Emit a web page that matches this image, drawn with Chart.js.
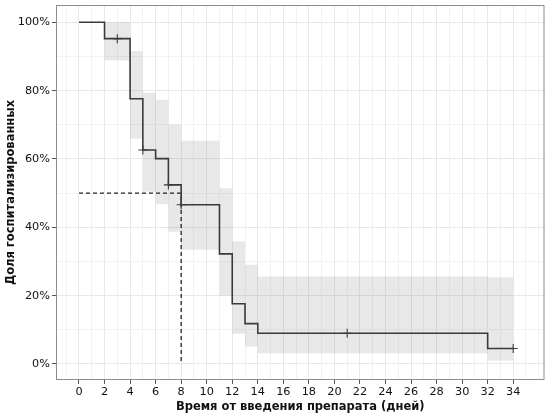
<!DOCTYPE html>
<html>
<head>
<meta charset="utf-8">
<script src="https://cdn.jsdelivr.net/npm/chart.js@4.4.0/dist/chart.umd.min.js"></script>
<style>
  html, body { margin: 0; padding: 0; background: #fff; }
</style>
</head>
<body>
<canvas id="kmChart" width="550" height="415"></canvas>
<script>
// Kaplan-Meier curve (values in %)
const times = [0, 2, 4, 5, 6, 7, 8, 11, 12, 13, 14, 32, 34];
const survival = [100, 95.2, 77.6, 62.6, 60.1, 52.4, 46.6, 32.2, 17.6, 11.8, 9.0, 4.5, 4.5];
const upperCI = [100, 100, 91.6, 79.4, 77.3, 70.1, 65.3, 51.4, 35.8, 29.0, 25.6, 25.4, 25.4];
const lowerCI = [100, 88.8, 66.0, 50.4, 46.7, 38.7, 33.4, 20.0, 8.8, 5.1, 3.1, 1.0, 1.0];

// censored observations
const censorTimes = [3, 5, 7, 8, 21, 34];
const censorValues = [95.2, 62.6, 52.4, 46.6, 9.0, 4.5];

// median survival
const medianTime = 8;
const medianValue = 50;

const xTickLabels = [0, 2, 4, 6, 8, 10, 12, 14, 16, 18, 20, 22, 24, 26, 28, 30, 32, 34];
const yTickLabels = [0, 20, 40, 60, 80, 100];

const FONT = "'DejaVu Sans', sans-serif";

function toPoints(xs, ys) {
  return xs.map((x, i) => ({ x: x, y: ys[i] }));
}

// major + minor grid positions (minor = midway between labelled ticks)
function gridValues(labels, extra) {
  const step = labels[1] - labels[0];
  const vals = [labels[0] - step / 2];
  labels.forEach((v) => {
    vals.push(v);
    vals.push(v + step / 2);
  });
  for (let i = 1; i <= (extra || 0); i++) {
    vals.push(labels[labels.length - 1] + step / 2 + i * step / 2);
  }
  return vals;
}

const panelBorder = {
  id: "panelBorder",
  afterDraw(chart) {
    const a = chart.chartArea;
    const ctx = chart.ctx;
    ctx.save();
    ctx.strokeStyle = "#8c8c8c";
    ctx.lineWidth = 1;
    ctx.strokeRect(a.left + 0.5, a.top + 0.5, a.right - a.left - 1, a.bottom - a.top - 1);
    ctx.restore();
  },
};

const ctx = document.getElementById("kmChart").getContext("2d");

new Chart(ctx, {
  type: "line",
  data: {
    datasets: [
      {
        label: "survival",
        data: toPoints(times, survival),
        stepped: "before",
        borderColor: "#3a3a3a",
        borderWidth: 1.6,
        pointRadius: 0,
        fill: false,
      },
      {
        label: "censored",
        type: "scatter",
        data: toPoints(censorTimes, censorValues),
        pointStyle: "cross",
        pointRadius: 4.5,
        pointBorderWidth: 1.1,
        borderColor: "#3a3a3a",
        backgroundColor: "#3a3a3a",
      },
      {
        label: "median",
        data: [
          { x: times[0], y: medianValue },
          { x: medianTime, y: medianValue },
          { x: medianTime, y: 0 },
        ],
        borderColor: "#222",
        borderWidth: 1.3,
        borderDash: [4, 3],
        pointRadius: 0,
        fill: false,
      },
      {
        label: "upper",
        data: toPoints(times, upperCI),
        stepped: "before",
        borderWidth: 0,
        pointRadius: 0,
        fill: "+1",
        backgroundColor: "rgba(130,130,130,0.18)",
      },
      {
        label: "lower",
        data: toPoints(times, lowerCI),
        stepped: "before",
        borderWidth: 0,
        pointRadius: 0,
        fill: false,
      },
    ],
  },
  options: {
    responsive: false,
    animation: false,
    layout: { autoPadding: false, padding: { left: 0, right: 5.5, top: 5, bottom: 0 } },
    plugins: {
      legend: { display: false },
      tooltip: { enabled: false },
    },
    scales: {
      x: {
        type: "linear",
        min: -1.8,
        max: 36.45,
        afterBuildTicks(scale) {
          scale.ticks = gridValues(xTickLabels, 1).map((v) => ({ value: v }));
        },
        afterFit(scale) {
          scale.height = 35;
          scale.paddingLeft = 0;
          scale.paddingRight = 0;
        },
        ticks: {
          autoSkip: false,
          maxRotation: 0,
          padding: 1,
          color: "#111",
          font: { family: FONT, size: 11.3 },
          callback: (v) => (xTickLabels.includes(v) ? String(v) : ""),
        },
        grid: {
          color: (c) => (xTickLabels.includes(c.tick.value) ? "#e8e8e8" : "#f2f2f2"),
          lineWidth: 1,
          tickLength: 4,
          tickColor: (c) => (xTickLabels.includes(c.tick.value) ? "#555" : "rgba(0,0,0,0)"),
        },
        border: { display: false },
        title: {
          display: true,
          text: "Время от введения препарата (дней)",
          color: "#111",
          font: { family: FONT, size: 11.5, weight: "bold" },
          padding: { top: 0, bottom: 1.5 },
        },
      },
      y: {
        min: -4.7,
        max: 105.05,
        afterBuildTicks(scale) {
          scale.ticks = gridValues(yTickLabels)
            .filter((v) => v >= 0)
            .map((v) => ({ value: v }));
        },
        afterFit(scale) {
          scale.width = 56;
          scale.paddingTop = 0;
          scale.paddingBottom = 0;
        },
        ticks: {
          autoSkip: false,
          padding: 2,
          color: "#111",
          font: { family: FONT, size: 11.3 },
          callback: (v) => (yTickLabels.includes(v) ? v + "%" : ""),
        },
        grid: {
          color: (c) => (yTickLabels.includes(c.tick.value) ? "#e8e8e8" : "#f2f2f2"),
          lineWidth: 1,
          tickLength: 4,
          tickColor: (c) => (yTickLabels.includes(c.tick.value) ? "#555" : "rgba(0,0,0,0)"),
        },
        border: { display: false },
        title: {
          display: true,
          text: "Доля госпитализированных",
          color: "#111",
          font: { family: FONT, size: 11.5, weight: "bold" },
          padding: { top: 4, bottom: 0 },
        },
      },
    },
  },
  plugins: [panelBorder],
});
</script>
</body>
</html>
